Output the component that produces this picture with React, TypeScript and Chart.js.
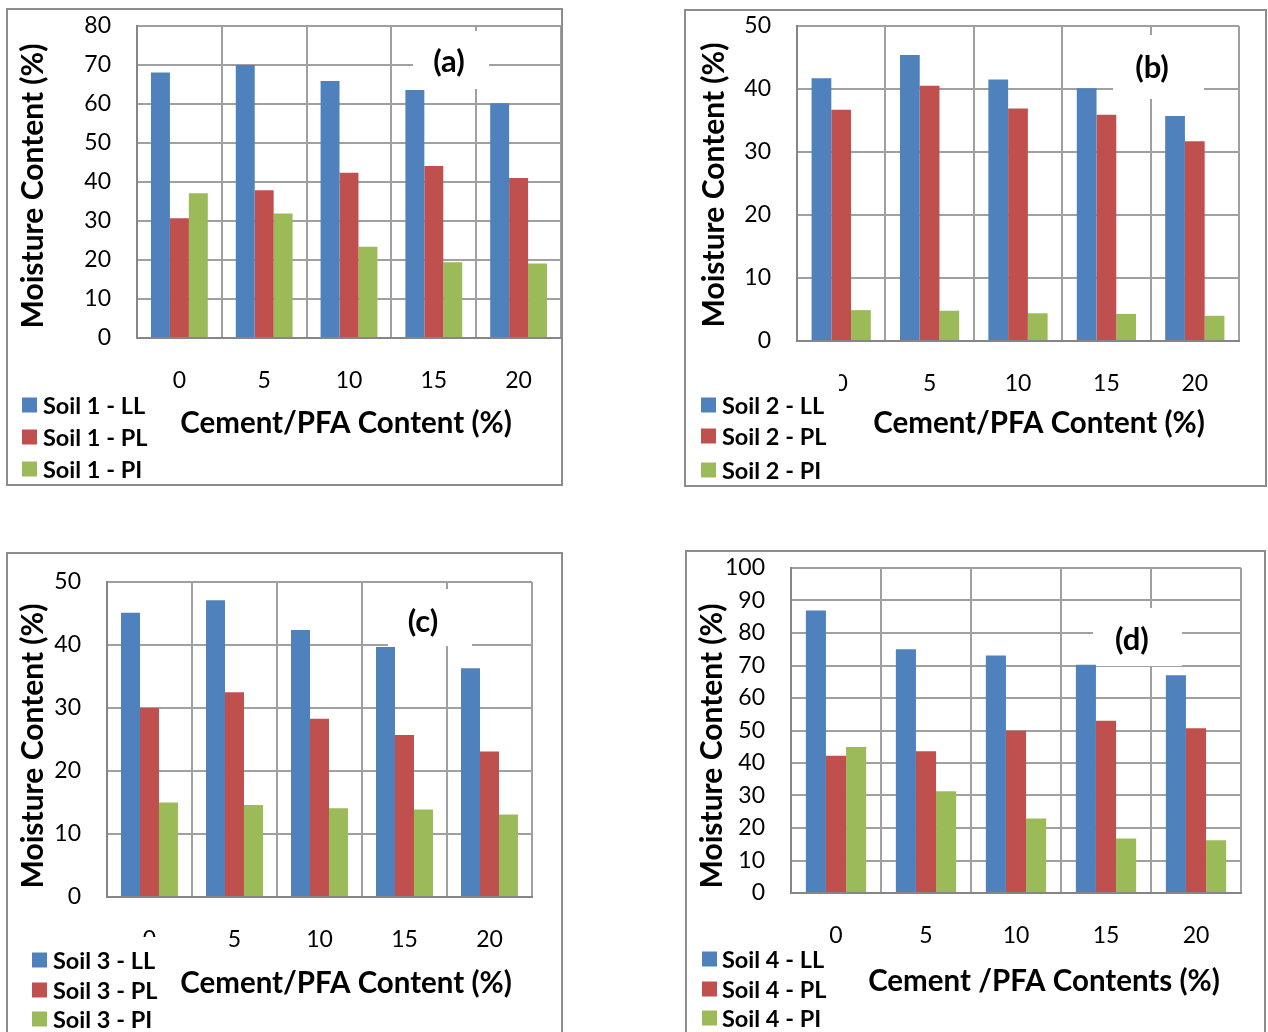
import React, { useEffect, useRef } from 'react';
import { Chart, registerables } from 'chart.js';
Chart.register(...registerables);

// ---- data ----
const categories = ['0', '5', '10', '15', '20'];

const soil1LL = [68.1, 70.0, 65.9, 63.6, 60.2];
const soil1PL = [30.7, 37.9, 42.4, 44.1, 41.0];
const soil1PI = [37.1, 31.9, 23.4, 19.4, 19.1];

const soil2LL = [41.7, 45.4, 41.5, 40.1, 35.7];
const soil2PL = [36.7, 40.5, 36.9, 35.9, 31.7];
const soil2PI = [4.9, 4.8, 4.4, 4.3, 4.0];

const soil3LL = [45.1, 47.1, 42.4, 39.7, 36.3];
const soil3PL = [30.0, 32.5, 28.3, 25.7, 23.1];
const soil3PI = [15.0, 14.6, 14.1, 13.9, 13.1];

const soil4LL = [86.9, 75.0, 73.1, 70.2, 67.0];
const soil4PL = [42.2, 43.6, 49.9, 53.0, 50.7];
const soil4PI = [44.9, 31.3, 22.9, 16.8, 16.2];

const seriesSuffixes = ['LL', 'PL', 'PI'];
const panelTags = ['(a)', '(b)', '(c)', '(d)'];
const yAxisMax = [80, 50, 50, 100];
const yAxisStep = [10, 10, 10, 10];
const yTitle = 'Moisture Content (%)';
const xTitles = ['Cement/PFA Content (%)', 'Cement/PFA Content (%)', 'Cement/PFA Content (%)', 'Cement /PFA Contents (%)'];

const COLORS = ['#4f81bd', '#c0504d', '#9bbb59'];
const FONT = 'Lato, "Open Sans", sans-serif';

type Rect = { x: number; y: number; w: number; h: number };
type Layout = {
  box: Rect; // page coords of panel (outer border)
  plot: { l: number; t: number; r: number; b: number };
  yTitle: { x: number; y: number };
  xTitle: { x: number; y: number };
  tagBox: { l: number; t: number; r: number; b: number; cx: number; cy: number };
  legend: { sqX: number; textX: number; rows: number[]; bg: { l: number; t: number; r: number; b: number } };
};

const layouts: Layout[] = [
  {
    box: { x: 6, y: 8, w: 557, h: 478 },
    plot: { l: 137, t: 26, r: 561, b: 338 },
    yTitle: { x: 33, y: 186 },
    xTitle: { x: 346, y: 423 },
    tagBox: { l: 413, t: 31, r: 489, b: 89, cx: 449, cy: 62 },
    legend: { sqX: 22, textX: 43, rows: [405, 437, 469], bg: { l: 8, t: 390, r: 150, b: 484 } },
  },
  {
    box: { x: 684, y: 9, w: 583, h: 478 },
    plot: { l: 797, t: 26, r: 1239, b: 341 },
    yTitle: { x: 714, y: 185 },
    xTitle: { x: 1039, y: 423 },
    tagBox: { l: 1113, t: 35, r: 1204, b: 99, cx: 1152, cy: 68 },
    legend: { sqX: 701, textX: 722, rows: [405, 436, 470], bg: { l: 686, t: 372, r: 839, b: 485 } },
  },
  {
    box: { x: 6, y: 552, w: 557, h: 490 },
    plot: { l: 107, t: 582, r: 532, b: 897 },
    yTitle: { x: 33, y: 746 },
    xTitle: { x: 346, y: 983 },
    tagBox: { l: 388, t: 589, r: 472, b: 646, cx: 423, cy: 622 },
    legend: { sqX: 32, textX: 53, rows: [960, 990, 1019], bg: { l: 8, t: 937, r: 162, b: 1040 } },
  },
  {
    box: { x: 685, y: 550, w: 581, h: 490 },
    plot: { l: 791, t: 568, r: 1241, b: 893 },
    yTitle: { x: 712, y: 746 },
    xTitle: { x: 1044, y: 981 },
    tagBox: { l: 1093, t: 608, r: 1182, b: 666, cx: 1132, cy: 640 },
    legend: { sqX: 702, textX: 722, rows: [959, 989, 1018], bg: { l: 687, t: 940, r: 826, b: 1040 } },
  },
];

const panelData = [
  [soil1LL, soil1PL, soil1PI],
  [soil2LL, soil2PL, soil2PI],
  [soil3LL, soil3PL, soil3PI],
  [soil4LL, soil4PL, soil4PI],
];

function PanelChart({ idx }: { idx: number }) {
  const ref = useRef<HTMLCanvasElement>(null);
  const L = layouts[idx];
  useEffect(() => {
    const canvas = ref.current;
    if (!canvas) return;
    const ox = L.box.x;
    const oy = L.box.y;
    const labels = seriesSuffixes.map((s) => `Soil ${idx + 1} - ${s}`);

    const deco = {
      id: 'deco' + idx,
      beforeDatasetsDraw(chart: any) {
        const ctx = chart.ctx;
        const t = L.tagBox;
        ctx.save();
        ctx.fillStyle = '#ffffff';
        ctx.fillRect(t.l - ox, t.t - oy, t.r - t.l, t.b - t.t);
        ctx.fillStyle = '#000';
        ctx.font = `bold 31px ${FONT}`;
        ctx.textAlign = 'center';
        ctx.textBaseline = 'middle';
        ctx.fillText(panelTags[idx], t.cx - ox, t.cy - oy);
        ctx.restore();
      },
      afterDraw(chart: any) {
        const ctx = chart.ctx;
        ctx.save();
        // legend
        const lg = L.legend;
        ctx.fillStyle = '#ffffff';
        ctx.fillRect(lg.bg.l - ox, lg.bg.t - oy, lg.bg.r - lg.bg.l, lg.bg.b - lg.bg.t);
        ctx.font = `bold 23.5px ${FONT}`;
        ctx.textAlign = 'left';
        ctx.textBaseline = 'middle';
        chart.data.datasets.forEach((ds: any, i: number) => {
          const cy = lg.rows[i] - oy;
          ctx.fillStyle = ds.backgroundColor;
          ctx.fillRect(lg.sqX - ox, cy - 7.5, 15, 15);
          ctx.fillStyle = '#000';
          ctx.fillText(ds.label, lg.textX - ox, cy + 1);
        });
        // axis titles
        ctx.fillStyle = '#000';
        ctx.font = `bold 29.5px ${FONT}`;
        ctx.textAlign = 'center';
        ctx.textBaseline = 'middle';
        ctx.fillText(xTitles[idx], L.xTitle.x - ox, L.xTitle.y - oy);
        ctx.save();
        ctx.translate(L.yTitle.x - ox, L.yTitle.y - oy);
        ctx.rotate(-Math.PI / 2);
        ctx.font = `bold 30px ${FONT}`;
        ctx.fillText(yTitle, 0, 0);
        ctx.restore();
        // panel border
        ctx.strokeStyle = '#8c8c8c';
        ctx.lineWidth = 2;
        ctx.strokeRect(1, 1, L.box.w - 2, L.box.h - 2);
        ctx.restore();
      },
    };

    const chart = new Chart(canvas, {
      type: 'bar',
      data: {
        labels: categories,
        datasets: panelData[idx].map((d, i) => ({
          label: labels[i],
          data: d,
          backgroundColor: COLORS[i],
          borderWidth: 0,
          categoryPercentage: 0.67,
          barPercentage: 1,
        })),
      },
      options: {
        animation: false,
        responsive: false,
        devicePixelRatio: 1,
        layout: {
          padding: {
            left: 0,
            top: L.plot.t - oy,
            right: ox + L.box.w - L.plot.r,
            bottom: 0,
          },
        },
        plugins: { legend: { display: false }, tooltip: { enabled: false } },
        scales: {
          x: {
            grid: { color: '#a0a0a0', lineWidth: 2, drawTicks: false, offset: true },
            border: { color: '#868686', width: 2 },
            ticks: { font: { family: FONT, size: 23 }, color: '#000', padding: 29 },
            afterFit: (s: any) => {
              s.height = oy + L.box.h - L.plot.b;
              s.paddingLeft = 0;
              s.paddingRight = 0;
            },
          },
          y: {
            min: 0,
            max: yAxisMax[idx],
            grid: { color: '#a0a0a0', lineWidth: 2, drawTicks: false },
            border: { color: '#868686', width: 2 },
            ticks: { stepSize: yAxisStep[idx], font: { family: FONT, size: 23 }, color: '#000', padding: 26 },
            afterFit: (s: any) => {
              s.width = L.plot.l - ox;
              s.paddingTop = 0;
              s.paddingBottom = 0;
            },
          },
        },
      },
      plugins: [deco],
    } as any);
    return () => chart.destroy();
  }, [idx]);
  return (
    <canvas
      ref={ref}
      width={L.box.w}
      height={L.box.h}
      style={{ position: 'absolute', left: L.box.x, top: L.box.y, width: L.box.w, height: L.box.h }}
    />
  );
}

export default function App() {
  return (
    <div
      style={{
        position: 'absolute',
        left: 0,
        top: 0,
        width: 1268,
        height: 1032,
        overflow: 'hidden',
        background: '#ffffff',
      }}
    >
      {layouts.map((_, i) => (
        <PanelChart key={i} idx={i} />
      ))}
    </div>
  );
}
